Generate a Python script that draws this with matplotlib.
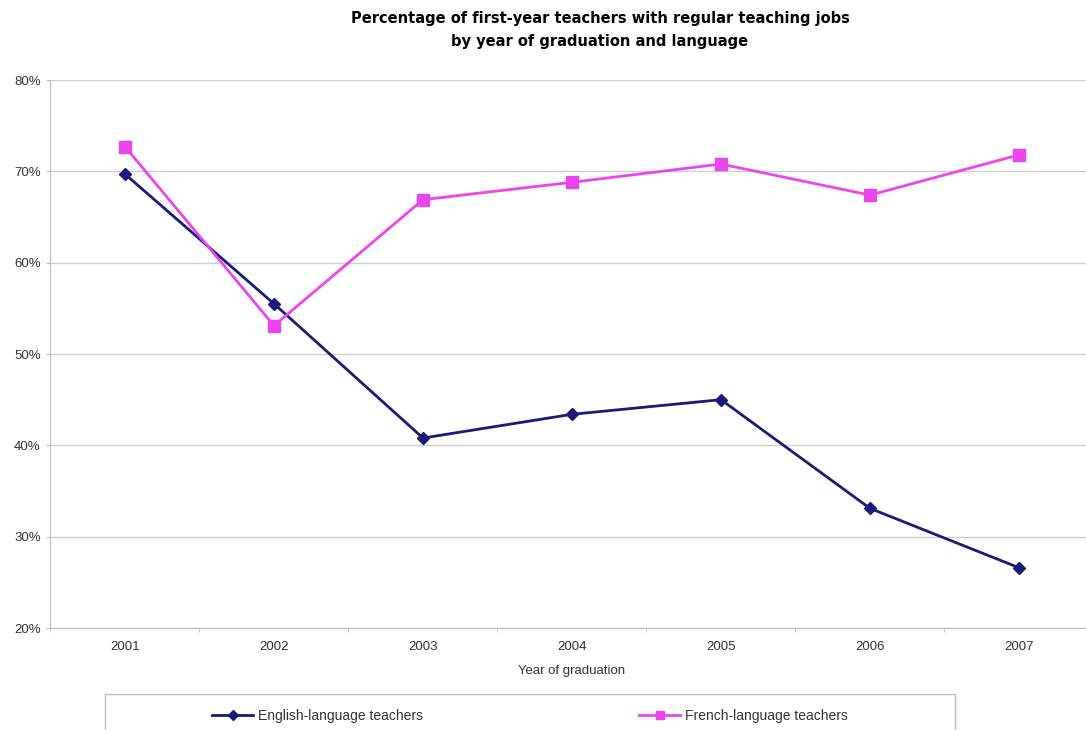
import matplotlib
matplotlib.use("Agg")
import matplotlib.pyplot as plt
from matplotlib.patches import Rectangle
from matplotlib.ticker import FixedLocator, PercentFormatter

plt.rcParams['font.family'] = ['Liberation Sans', 'DejaVu Sans']

years = ["2001", "2002", "2003", "2004", "2005", "2006", "2007"]
english = [69.7, 55.5, 40.8, 43.4, 45.0, 33.1, 26.6]
french = [72.7, 53.1, 66.9, 68.8, 70.8, 67.4, 71.8]

title = ("Percentage of first-year teachers with regular teaching jobs\n"
         "by year of graduation and language")

fig = plt.figure(figsize=(10.86, 7.30), dpi=100)
ax = fig.add_axes([0.0465, 0.1397, 0.9604, 0.7507])

x = list(range(len(years)))
ax.plot(x, english, color="#1c1a78", lw=2, marker="D", ms=6,
        label="English-language teachers", zorder=3)
ax.plot(x, french, color="#ee44ee", lw=2, marker="s", ms=8,
        label="French-language teachers", zorder=3)

ax.set_xlim(-0.5, 6.5)
ax.set_ylim(20, 80)
ax.set_yticks(range(20, 81, 10))
ax.yaxis.set_major_formatter(PercentFormatter(decimals=0))
ax.set_xticks(x)
ax.set_xticklabels(years)
ax.xaxis.set_minor_locator(FixedLocator([i + 0.5 for i in range(-1, 7)]))

ax.grid(axis="y", color="#cfcfcf", lw=1)
ax.set_axisbelow(True)
for s in ["top", "right"]:
    ax.spines[s].set_visible(False)
for s in ["left", "bottom"]:
    ax.spines[s].set_color("#bdbdbd")
ax.tick_params(axis="y", length=3, color="#bdbdbd", labelsize=9.5, pad=4,
               labelcolor="#333333")
ax.tick_params(axis="x", which="major", length=0, labelsize=9.5, pad=9,
               labelcolor="#333333")
ax.tick_params(axis="x", which="minor", length=3, color="#bdbdbd")
ax.set_xlabel("Year of graduation", fontsize=9.5, color="#333333", labelpad=9)

fig.text(0.5525, 0.959, title, ha="center", va="center", fontsize=10.5,
         fontweight="bold", family="DejaVu Sans", linespacing=1.65)

# legend box along the bottom edge
fig.patches.append(Rectangle((105 / 1086, -0.01), 850 / 1086, 43 / 730,
                             transform=fig.transFigure, facecolor="white",
                             edgecolor="#bdbdbd", lw=1))
fig.legend(loc="center", bbox_to_anchor=(530 / 1086, 14 / 730), ncol=2,
           frameon=False, fontsize=10, handlelength=2.9, columnspacing=15.6,
           handletextpad=0.36, markerscale=0.8, labelcolor="#333333")

fig.savefig("out.png", dpi=100)
